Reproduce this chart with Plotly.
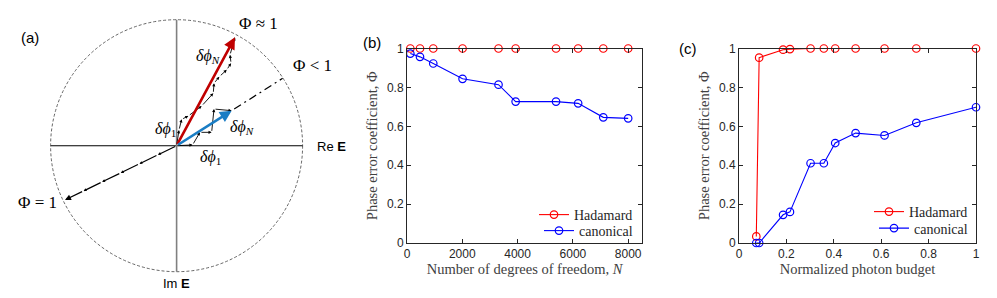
import plotly.graph_objects as go

# ---------------- data: panel (b) ----------------
dof_N = [120, 470, 950, 2010, 3310, 3930, 5390, 6190, 7100, 8000]
hadamard_b = [1.0, 1.0, 1.0, 1.0, 1.0, 1.0, 1.0, 1.0, 1.0, 1.0]
canonical_b = [0.974, 0.957, 0.923, 0.844, 0.814, 0.727, 0.727, 0.718, 0.646, 0.641]
b_xticks = [0, 2000, 4000, 6000, 8000]

# ---------------- data: panel (c) ----------------
photon_budget = [0.073, 0.085, 0.186, 0.215, 0.302, 0.358, 0.406, 0.492, 0.614, 0.748, 1.0]
hadamard_c = [0.034, 0.953, 0.994, 0.997, 1.0, 1.0, 1.0, 1.0, 1.0, 1.0, 1.0]
canonical_c = [0.0, 0.0, 0.145, 0.160, 0.410, 0.410, 0.514, 0.565, 0.553, 0.618, 0.698]
c_xticks = [0, 0.2, 0.4, 0.6, 0.8, 1]
y_ticks = [0, 0.2, 0.4, 0.6, 0.8, 1]
y_ticklabels = ["0", "0.2", "0.4", "0.6", "0.8", "1"]

# ---------------- data: panel (a) phasor diagram (unit circle) ----------------
red_tip = [0.463, 0.860]
blue_tip = [0.437, 0.278]
dashdot_end = [0.842, 0.535]
black_x = [0.0, -0.148, -0.295, -0.443, -0.591, -0.738, -0.886]
black_y = [0.0, -0.072, -0.144, -0.216, -0.287, -0.359, -0.431]
red_chain_x = [0.0, 0.019, 0.040, 0.093, 0.199, 0.291, 0.297, 0.339, 0.398, 0.432, 0.424, 0.463]
red_chain_y = [0.0, 0.124, 0.209, 0.236, 0.315, 0.416, 0.495, 0.548, 0.602, 0.655, 0.721, 0.860]
blue_chain_x = [0.0, 0.127, 0.185, 0.278, 0.297, 0.437]
blue_chain_y = [0.0, 0.006, 0.106, 0.106, 0.291, 0.278]

W, H = 997, 298
RED = "#ff0000"
BLUE = "#0000ff"
AX = "#262626"
SERIF = "Liberation Serif, Times New Roman, serif"
SANS = "Liberation Sans, Arial, sans-serif"

# pixel geometry for panel (a): circle centre & radius in px
cx, cy, R = 176.6, 145.7, 126.0

fig = go.Figure()

# ---- panel (a) dash-dot continuation ----
fig.add_trace(go.Scatter(x=[blue_tip[0] + 0.02, dashdot_end[0]],
                         y=[blue_tip[1] + 0.013, dashdot_end[1]],
                         mode="lines", line=dict(color="black", width=1.2, dash="8px,4px,2px,4px"),
                         xaxis="x", yaxis="y", showlegend=False, hoverinfo="skip"))

mk = dict(symbol="circle-open", size=7.5)
# ---- panel (b) ----
fig.add_trace(go.Scatter(x=dof_N, y=hadamard_b, mode="lines+markers", name="Hadamard",
                         line=dict(color=RED, width=1.1),
                         marker=dict(**mk, color=RED, line=dict(width=1.2)),
                         xaxis="x2", yaxis="y2", cliponaxis=False, legend="legend"))
fig.add_trace(go.Scatter(x=dof_N, y=canonical_b, mode="lines+markers", name="canonical",
                         line=dict(color=BLUE, width=1.1),
                         marker=dict(**mk, color=BLUE, line=dict(width=1.2)),
                         xaxis="x2", yaxis="y2", cliponaxis=False, legend="legend2"))
# ---- panel (c) ----
fig.add_trace(go.Scatter(x=photon_budget, y=hadamard_c, mode="lines+markers", name="Hadamard",
                         line=dict(color=RED, width=1.1),
                         marker=dict(**mk, color=RED, line=dict(width=1.2)),
                         xaxis="x3", yaxis="y3", cliponaxis=False, legend="legend3"))
fig.add_trace(go.Scatter(x=photon_budget, y=canonical_c, mode="lines+markers", name="canonical",
                         line=dict(color=BLUE, width=1.1),
                         marker=dict(**mk, color=BLUE, line=dict(width=1.2)),
                         xaxis="x3", yaxis="y3", cliponaxis=False, legend="legend4"))

# ---- panel (a) axes: 1 unit = R px ----
a_right_px = 355
fig.update_layout(
    xaxis=dict(domain=[0, a_right_px / W], range=[(0 - cx) / R, (a_right_px - cx) / R],
               visible=False, fixedrange=True),
    yaxis=dict(domain=[0, 1], range=[-(H - cy) / R, cy / R], visible=False, fixedrange=True),
)

# ---- panel (b)/(c) axes ----
def frame_axis(domain, rng, tickvals, ticktext=None, title="", standoff=2):
    d = dict(domain=domain, range=rng, tickvals=tickvals, showgrid=False, zeroline=False,
             showline=True, mirror="ticks", linecolor=AX, linewidth=1, ticks="inside",
             ticklen=4, tickcolor=AX, tickfont=dict(family=SANS, size=12, color=AX),
             automargin=False,
             title=dict(text=title, font=dict(family=SERIF, size=14.5, color="#404040"),
                        standoff=standoff))
    if ticktext is not None:
        d["ticktext"] = ticktext
    return d

ydom = [(H - 243) / H, (H - 48.5) / H]
fig.update_layout(
    xaxis2=frame_axis([407 / W, 642 / W], [0, 8500], b_xticks,
                      title="Number of degrees of freedom, <i>N</i>", standoff=2),
    yaxis2=frame_axis(ydom, [0, 1], y_ticks, y_ticklabels,
                      title="Phase error coefficient, Φ", standoff=5),
    xaxis3=frame_axis([739 / W, 976 / W], [0, 1], c_xticks, y_ticklabels,
                      title="Normalized photon budget", standoff=2),
    yaxis3=frame_axis(ydom, [0, 1], y_ticks, y_ticklabels,
                      title="Phase error coefficient, Φ", standoff=5),
)
fig.layout.xaxis2.anchor = "y2"
fig.layout.yaxis2.anchor = "x2"
fig.layout.xaxis3.anchor = "y3"
fig.layout.yaxis3.anchor = "x3"

leg_font = dict(family=SERIF, size=14, color="#262626")

def leg(px_right, py_mid):
    return dict(x=px_right / W, xanchor="right", y=(H - py_mid) / H, yanchor="middle",
                bgcolor="rgba(0,0,0,0)", font=leg_font, itemwidth=30,
                tracegroupgap=0, borderwidth=0)

fig.update_layout(
    legend=leg(638, 215),
    legend2=leg(638, 231),
    legend3=leg(973, 212),
    legend4=leg(973, 228.5),
)

shapes = []
shapes.append(dict(type="circle", xref="x", yref="y", x0=-1, y0=-1, x1=1, y1=1,
                   line=dict(color="#555555", width=0.9, dash="3px,2px")))
shapes.append(dict(type="line", xref="x", yref="y", x0=-1, y0=0, x1=1, y1=0,
                   line=dict(color="black", width=1.1)))
shapes.append(dict(type="line", xref="x", yref="y", x0=0, y0=1, x1=0, y1=-1,
                   line=dict(color="#808080", width=1.6)))
fig.update_layout(shapes=shapes)

ann = []

def arrow(x0, y0, x1, y1, color, width, size, head=2):
    return dict(x=x1, y=y1, ax=x0, ay=y0, xref="x", yref="y", axref="x", ayref="y",
                text="", showarrow=True, arrowhead=head, arrowsize=size, arrowwidth=width,
                arrowcolor=color, standoff=0, startstandoff=0)

for i in range(len(red_chain_x) - 1):
    ann.append(arrow(red_chain_x[i], red_chain_y[i], red_chain_x[i + 1], red_chain_y[i + 1],
                     "black", 0.9, 0.7))
for i in range(len(blue_chain_x) - 1):
    ann.append(arrow(blue_chain_x[i], blue_chain_y[i], blue_chain_x[i + 1], blue_chain_y[i + 1],
                     "black", 0.9, 0.7))
for i in range(len(black_x) - 1):
    last = i == len(black_x) - 2
    ann.append(arrow(black_x[i], black_y[i], black_x[i + 1], black_y[i + 1],
                     "black", 1.2, 1.0 if last else 0.5))
ann.append(arrow(0, 0, red_tip[0], red_tip[1], "#c00000", 2.6, 0.9))
ann.append(arrow(0, 0, blue_tip[0], blue_tip[1], "#1a7dc4", 2.6, 0.9))

def px2d(px, py):
    return (px - cx) / R, (cy - py) / R

def label(px, py, text, font, xanchor="center"):
    x, y = px2d(px, py)
    return dict(x=x, y=y, xref="x", yref="y", text=text, showarrow=False,
                xanchor=xanchor, yanchor="middle", font=font)

phi_font = dict(family=SERIF, size=17, color="black")
dphi_font = dict(family=SERIF, size=16, color="black")
ann.append(label(30, 37, "(a)", dict(family=SANS, size=15, color="black")))
ann.append(label(315, 146, "Re <b>E</b>", dict(family=SANS, size=13, color="black"), "left"))
ann.append(label(176.6, 283, "Im <b>E</b>", dict(family=SANS, size=13, color="black")))
ann.append(label(237, 23, "Φ ≈ 1", phi_font, "left"))
ann.append(label(291, 65, "Φ &lt; 1", phi_font, "left"))
ann.append(label(59, 202, "Φ = 1", phi_font, "right"))
ann.append(label(207.5, 56, "<i>δϕ</i><sub><i>N</i></sub>", dphi_font))
ann.append(label(165, 129, "<i>δϕ</i><sub>1</sub>", dphi_font))
ann.append(label(242, 127, "<i>δϕ</i><sub><i>N</i></sub>", dphi_font))
ann.append(label(210, 157, "<i>δϕ</i><sub>1</sub>", dphi_font))

ann.append(dict(x=372 / W, y=(H - 32) / H, xref="paper", yref="paper", text="(b)",
                showarrow=False, font=dict(family=SANS, size=15, color="black")))
ann.append(dict(x=699 / W, y=(H - 38) / H, xref="paper", yref="paper", text="(c)",
                showarrow=False, font=dict(family=SANS, size=15, color="black")))

fig.update_layout(annotations=ann)

fig.update_layout(width=W, height=H, margin=dict(l=0, r=0, t=0, b=0, autoexpand=False),
                  paper_bgcolor="white", plot_bgcolor="white", showlegend=True)

fig.write_html("out.html",
               config={"displayModeBar": False},
               post_script="document.body.style.margin='0';document.body.style.padding='0';"
                           "document.body.style.overflow='hidden';")
